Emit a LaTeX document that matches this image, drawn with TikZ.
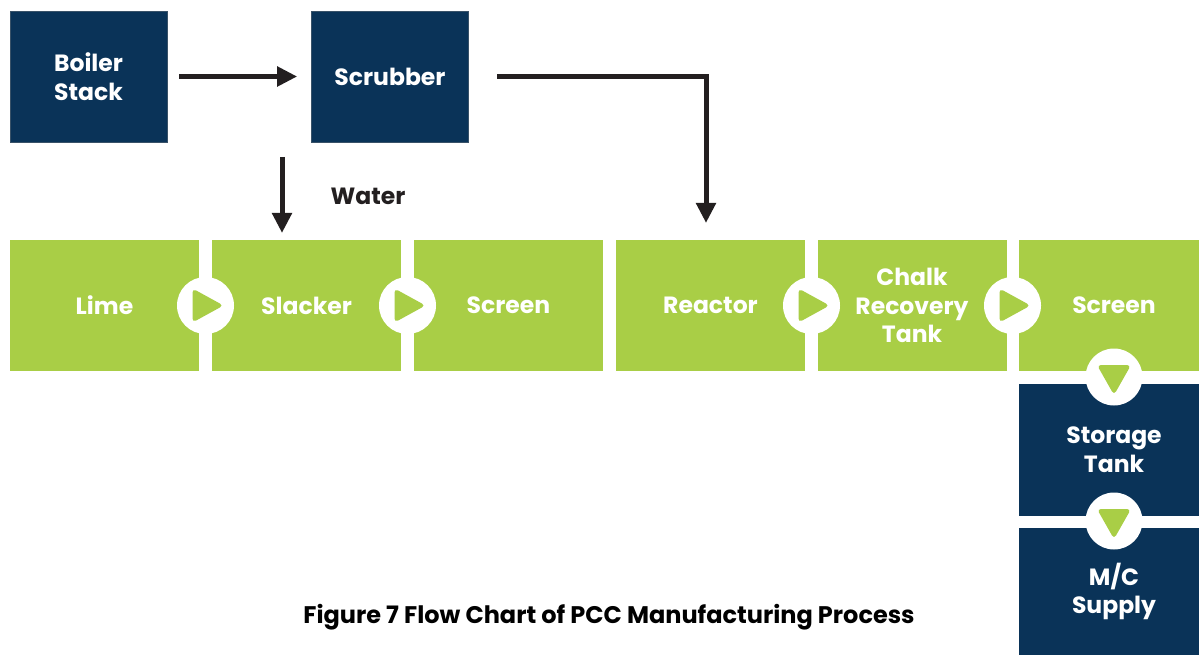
\documentclass[tikz,border=0pt]{standalone}
\usepackage{fontspec}
\setmainfont{Poppins}
\usetikzlibrary{arrows.meta,calc}
\definecolor{navy}{HTML}{0A3358}
\definecolor{lgreen}{HTML}{A9CE46}
\definecolor{arrowc}{HTML}{231F20}
\begin{document}
\begin{tikzpicture}[x=1pt,y=-1pt,
  lbl/.style={text=white,align=center,font=\bfseries\fontsize{23.5}{28.5}\selectfont},
  navybox/.style={lbl,fill=navy,draw=navy!60!gray,line width=0.6pt,minimum width=157pt,minimum height=131pt,inner sep=0pt},
  greenbox/.style={lbl,fill=lgreen,minimum width=189pt,minimum height=131pt,inner sep=0pt},
  endbox/.style={lbl,fill=navy,minimum width=190pt,minimum height=132pt,inner sep=0pt},
  joint/.style={circle,fill=white,minimum size=57pt,inner sep=0pt},
  arr/.style={draw=arrowc,line width=5pt,-{Triangle[length=20pt,width=19pt]}},
  trir/.style={fill=lgreen,rounded corners=4pt}
]
\useasboundingbox (0,0) rectangle (1199,655);
% top boxes
\node[navybox] (boiler) at (88.5,76.5) {Boiler\\Stack};
\node[navybox] (scrub) at (390,76.5) {Scrubber};
% green row
\node[greenbox] (lime) at (104.5,305.5) {Lime};
\node[greenbox] (slack) at (306.5,305.5) {Slacker};
\node[greenbox] (scr1) at (508.5,305.5) {Screen};
\node[greenbox] (react) at (710.5,305.5) {Reactor};
\node[greenbox] (chalk) at (912,305.5) {Chalk\\Recovery\\Tank};
\node[greenbox,minimum width=190pt] (scr2) at (1114,305.5) {Screen};
% right column
\node[endbox] (stor) at (1114,449.5) {Storage\\Tank};
\node[endbox,minimum height=128pt] (mc) at (1114,591.5) {M/C\\Supply};
% joints
\node[joint] (j1) at (205.5,305.5) {};
\node[joint] (j2) at (407.5,305.5) {};
\node[joint] (j3) at (811.5,305.5) {};
\node[joint] (j4) at (1012.5,305.5) {};
\node[joint] (j5) at (1114,377) {};
\node[joint] (j6) at (1114,521) {};
\foreach \j in {j1,j2,j3,j4}{
  \fill[trir] ($(\j)+(-13,-17)$) -- ($(\j)+(18,0)$) -- ($(\j)+(-13,17)$) -- cycle;
}
\foreach \j in {j5,j6}{
  \fill[trir] ($(\j)+(-17,-12)$) -- ($(\j)+(17,-12)$) -- ($(\j)+(0,18)$) -- cycle;
}
% arrows
\draw[arr,shorten <=12pt,shorten >=14pt] (boiler) -- (scrub);
\coordinate (w1) at (282,157);
\coordinate (w2) at (282,233);
\draw[arr] (w1) -- (w2);
\node[font=\bfseries\fontsize{23.5}{26}\selectfont,text=arrowc] (water) at (368,196) {Water};
\coordinate (s1) at (497,76.5);
\coordinate (s2) at (706,76.5);
\coordinate (s3) at (706,223);
\draw[arr] (s1) -- (s2) -- (s3);
% caption
\node[font=\bfseries\fontsize{24}{26}\selectfont,text=black] (cap) at (609,617) {Figure 7 Flow Chart of PCC Manufacturing Process};
\end{tikzpicture}
\end{document}
